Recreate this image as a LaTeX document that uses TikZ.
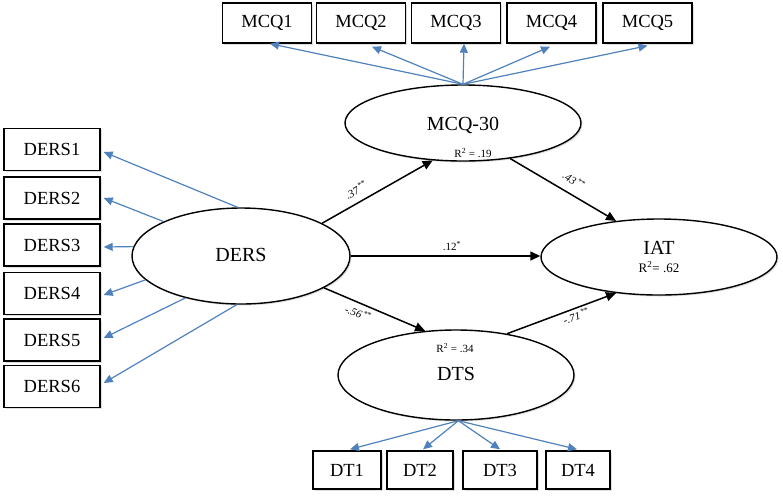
\documentclass[tikz,border=0pt]{standalone}
\usepackage{fontspec}
\setmainfont{Liberation Serif}
\usetikzlibrary{shapes.geometric,arrows.meta,shadows}
\definecolor{lblue}{RGB}{79,129,189}
\tikzset{
  itembox/.style={draw=black,line width=1.4pt,fill=white,rectangle,inner sep=0pt,
    font=\fontsize{18.5}{20}\selectfont,
    drop shadow={opacity=0.25,shadow xshift=1.5pt,shadow yshift=-1.5pt}},
  latent/.style={draw=black,line width=1.4pt,fill=white,ellipse,inner sep=0pt,
    drop shadow={opacity=0.25,shadow xshift=1.5pt,shadow yshift=-1.5pt}},
  ltext/.style={font=\fontsize{20}{22}\selectfont,inner sep=0pt},
  rtext/.style={font=\fontsize{11}{12}\selectfont,inner sep=0pt},
  coef/.style={font=\fontsize{11}{12}\selectfont\itshape,inner sep=0pt},
  load/.style={draw=lblue,line width=1.2pt,-{Triangle[length=9pt,width=8pt]}},
  path/.style={draw=black,line width=1.5pt,-{Triangle[length=10pt,width=9pt]}}
}
\begin{document}
\begin{tikzpicture}[x=1pt,y=-1pt]
\path[use as bounding box] (0,0) rectangle (783,499);
% MCQ item boxes
\foreach \n/\x in {1/267,2/361,3/456,4/551.5,5/647.5}
  \node[itembox,minimum width=89pt,minimum height=40pt] (mcq\n) at (\x,23) {MCQ\n};
% DERS item boxes
\foreach \n/\y in {1/149.5,2/198,3/245,4/293.5,5/340,6/386.5}
  \node[itembox,minimum width=96pt,minimum height=42pt] (ders\n) at (52,\y) {DERS\n};
% DT item boxes
\node[itembox,minimum width=68pt,minimum height=38pt] (dt1) at (347,470) {DT1};
\node[itembox,minimum width=66pt,minimum height=38pt] (dt2) at (420,470) {DT2};
\node[itembox,minimum width=74pt,minimum height=38pt] (dt3) at (500,470) {DT3};
\node[itembox,minimum width=64pt,minimum height=38pt] (dt4) at (578,470) {DT4};
% latent variables
\node[latent,minimum width=236pt,minimum height=76pt] (mcq) at (463,123) {};
\node[latent,minimum width=218pt,minimum height=96pt] (ders) at (241,256) {};
\node[latent,minimum width=236pt,minimum height=76pt] (iat) at (659,257) {};
\node[latent,minimum width=236pt,minimum height=90pt] (dts) at (456,375) {};
% latent labels
\node[ltext] (mcqlab) at (463,125) {MCQ-30};
\node[rtext] (mcqr) at (473,153) {R\textsuperscript{2} = .19};
\node[ltext] (derslab) at (241,255) {DERS};
\node[ltext] (iatlab) at (659,248) {IAT};
\node[font=\fontsize{13}{14}\selectfont,inner sep=0pt] (iatr) at (659,267) {R\textsuperscript{2}= .62};
\node[rtext] (dtsr) at (455,348) {R\textsuperscript{2} = .34};
\node[ltext] (dtslab) at (456,374) {DTS};
% loadings MCQ
\draw[load] (mcq.north) -- ([xshift=3pt]mcq1.south);
\draw[load] (mcq.north) -- ([xshift=11pt,yshift=-3pt]mcq2.south);
\draw[load] (mcq.north) -- ([xshift=8pt]mcq3.south);
\draw[load] (mcq.north) -- ([xshift=-1.5pt,yshift=-3pt]mcq4.south);
\draw[load] (mcq.north) -- ([yshift=-2pt]mcq5.south);
% loadings DERS
\draw[load] (ders.94.6) -- ([xshift=3pt,yshift=-2.5pt]ders1.east);
\draw[load] (ders.156.4) -- ([xshift=3pt]ders2.east);
\draw[load] (ders.175) -- ([xshift=3pt,yshift=-2pt]ders3.east);
\draw[load] (ders.194.3) -- ([xshift=3pt,yshift=-1.5pt]ders4.east);
\draw[load] (ders.217.9) -- ([xshift=3pt,yshift=2pt]ders5.east);
\draw[load] (ders.265.5) -- ([xshift=3pt,yshift=3.5pt]ders6.east);
% loadings DTS
\draw[load] (dts.273) -- ([xshift=3pt,yshift=1pt]dt1.north);
\draw[load] (dts.273) -- ([xshift=3pt,yshift=1pt]dt2.north);
\draw[load] (dts.273) -- ([yshift=1pt]dt3.north);
\draw[load] (dts.273) -- ([xshift=-1pt,yshift=1pt]dt4.north);
% structural paths
\draw[path] (ders.22.2) -- (mcq.231.5);
\draw[path] (mcq.323) -- (iat.140.7);
\draw[path] (ders.east) -- (ders.east -| iat.west);
\draw[path] (ders.339.3) -- (dts.125);
\draw[path] (dts.39.8) -- (iat.220.4);
% coefficients
\node[coef,rotate=29] (c1) at (356,190) {.37\kern1pt\textsuperscript{**}};
\node[coef,rotate=-31] (c2) at (574,180) {.43\kern1pt\textsuperscript{**}};
\node[font=\fontsize{11}{12}\selectfont,inner sep=0pt] (c3) at (452,246) {.12\textsuperscript{*}};
\node[coef,rotate=-22] (c4) at (358,313) {-.56\kern1pt\textsuperscript{**}};
\node[coef,rotate=17] (c5) at (576,316) {-.71\kern1pt\textsuperscript{**}};
\end{tikzpicture}
\end{document}
